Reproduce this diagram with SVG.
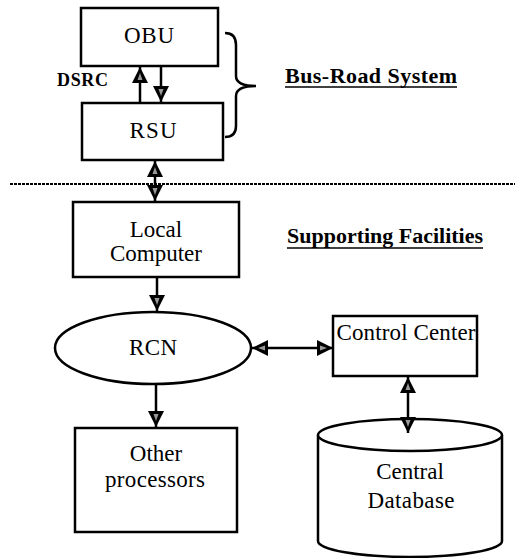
<svg xmlns="http://www.w3.org/2000/svg" width="519" height="558" viewBox="0 0 519 558">
<style>
.box{fill:#fff;stroke:#000;stroke-width:2.5}
.t{font-family:"Liberation Serif","Times New Roman",serif;font-size:23px;fill:#000;text-anchor:middle}
.h{font-family:"Liberation Serif","Times New Roman",serif;font-size:22px;font-weight:bold;fill:#000}
.c{stroke:#000;stroke-width:2.5;fill:none}
</style>
<defs>
<marker id="ah" viewBox="0 0 16 16" refX="16" refY="8" markerWidth="17" markerHeight="16" markerUnits="userSpaceOnUse" orient="auto-start-reverse">
<path d="M0,0 L16,8 L0,16 Z" fill="#000"/>
<path d="M3,5.5 L10,8 L3,10.5 Z" fill="#999"/>
</marker>
</defs>
<rect width="519" height="558" fill="#fff"/>
<line x1="10" y1="184" x2="515" y2="184" stroke="#000" stroke-width="2" stroke-dasharray="3 1"/>
<g id="obu"><rect class="box" x="81" y="8" width="137" height="58"/><text class="t" x="149" y="43" font-size="24" textLength="50">OBU</text></g>
<g id="rsu"><rect class="box" x="82" y="103" width="141" height="57"/><text class="t" x="153" y="138" font-size="24" textLength="47">RSU</text></g>
<g id="dsrc"><text x="57" y="86" font-family="Liberation Serif, serif" font-size="18" font-weight="bold" textLength="51">DSRC</text></g>
<g id="brace"><path class="c" d="M225,33 Q236,33 236,45 L236,76 Q236,86 256,86 Q236,86 236,96 L236,126 Q236,137 225,137"/></g>
<g id="busroad"><text class="h" x="285" y="83" textLength="172">Bus-Road System</text><line x1="285" y1="87" x2="457" y2="87" stroke="#000" stroke-width="1.5"/></g>
<g id="supporting"><text class="h" x="287" y="243" textLength="196">Supporting Facilities</text><line x1="287" y1="248" x2="483" y2="248" stroke="#000" stroke-width="1.5"/></g>
<g id="local"><rect class="box" x="73" y="202" width="166" height="75"/><text class="t" x="156" y="237" font-size="21">Local</text><text class="t" x="156" y="261" font-size="21" textLength="92">Computer</text></g>
<g id="rcn"><ellipse class="box" cx="153" cy="348" rx="98" ry="36"/><text class="t" x="153" y="355" textLength="48">RCN</text></g>
<g id="control"><rect class="box" x="333" y="316" width="144" height="60"/><text class="t" x="406" y="340" textLength="139">Control Center</text></g>
<g id="other"><rect class="box" x="75" y="428" width="162" height="104"/><text class="t" x="156" y="461" font-size="22">Other</text><text class="t" x="155" y="487" font-size="22" textLength="100">processors</text></g>
<g id="database"><path class="box" d="M318,435 L318,541 A92,16 0 0 0 502,541 L502,435"/><ellipse class="box" cx="410" cy="435" rx="92" ry="16"/><text class="t" x="410" y="479">Central</text><text class="t" x="411" y="508" textLength="87">Database</text></g>
<g id="connectors">
<line class="c" x1="140" y1="103" x2="140" y2="67" marker-end="url(#ah)"/>
<line class="c" x1="161" y1="66" x2="161" y2="102" marker-end="url(#ah)"/>
<line class="c" x1="155" y1="161" x2="155" y2="201" marker-start="url(#ah)" marker-end="url(#ah)"/>
<line class="c" x1="157" y1="277" x2="157" y2="311" marker-end="url(#ah)"/>
<line class="c" x1="252" y1="348" x2="333" y2="348" marker-start="url(#ah)" marker-end="url(#ah)"/>
<line class="c" x1="156" y1="384" x2="156" y2="427" marker-end="url(#ah)"/>
<line class="c" x1="408" y1="377" x2="408" y2="433" marker-start="url(#ah)" marker-end="url(#ah)"/>
</g>
</svg>
